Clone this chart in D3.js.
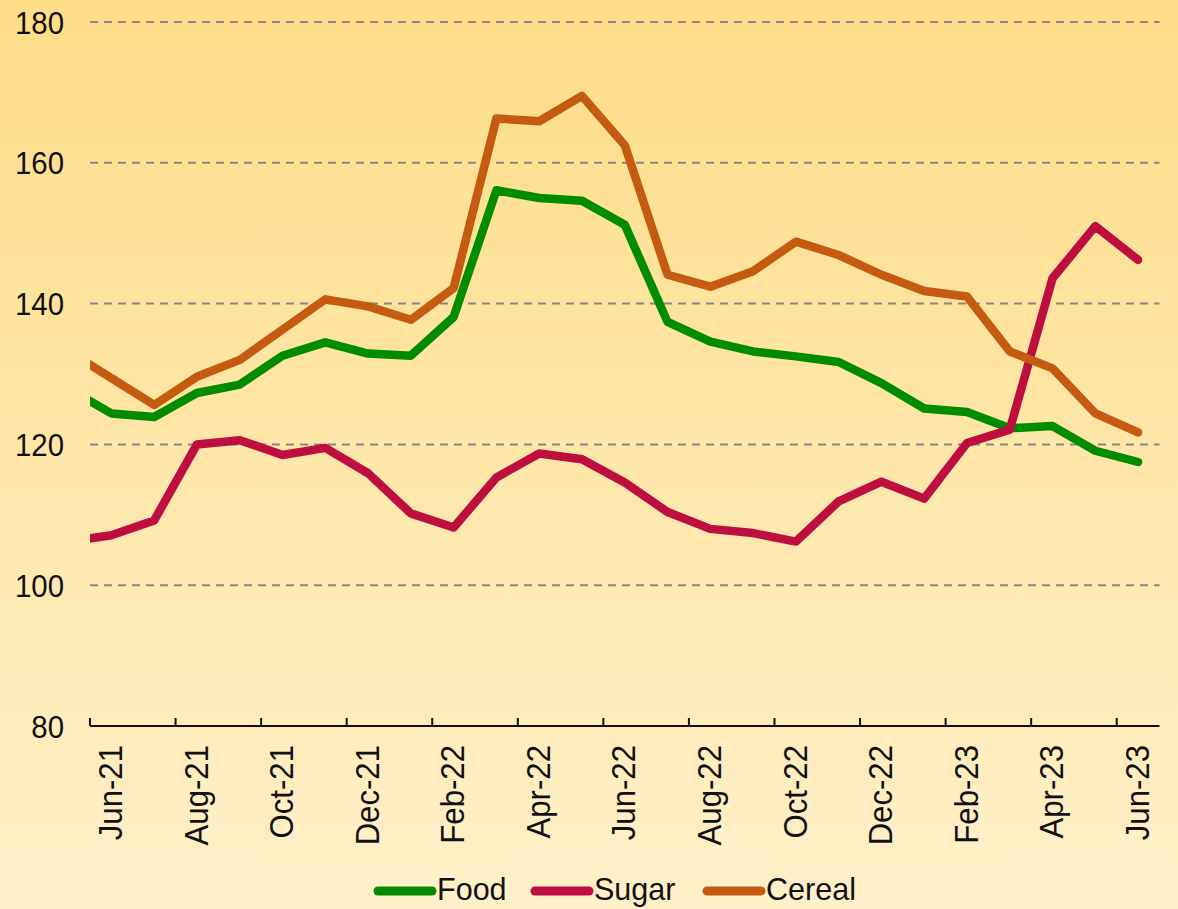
<!DOCTYPE html>
<html><head><meta charset="utf-8">
<script src="https://cdn.jsdelivr.net/npm/d3@7"></script>
<style>html,body{margin:0;padding:0;background:#fff;} body{width:1178px;height:909px;overflow:hidden;}</style>
</head><body>
<svg id="chart" width="1178" height="909"></svg>
<script>
// Months (first one, May-21, lies left of the axis and is clipped by the plot area)
const months = ["May-21","Jun-21","Jul-21","Aug-21","Sep-21","Oct-21","Nov-21","Dec-21",
  "Jan-22","Feb-22","Mar-22","Apr-22","May-22","Jun-22","Jul-22","Aug-22","Sep-22","Oct-22","Nov-22","Dec-22",
  "Jan-23","Feb-23","Mar-23","Apr-23","May-23","Jun-23"];
const axisMonths = months.slice(1);
const tickLabels = ["Jun-21","Aug-21","Oct-21","Dec-21","Feb-22","Apr-22","Jun-22","Aug-22","Oct-22","Dec-22","Feb-23","Apr-23","Jun-23"];
const food   = [127.9,124.4,123.9,127.3,128.5,132.6,134.5,132.9,132.6,138.1,156.1,155.0,154.6,151.2,137.4,134.6,133.2,132.5,131.7,128.7,125.1,124.6,122.3,122.6,119.1,117.5];
const sugar  = [106.2,107.1,109.2,120.0,120.6,118.5,119.5,115.9,110.2,108.2,115.3,118.7,117.9,114.6,110.4,108.0,107.4,106.2,111.9,114.7,112.3,120.2,122.1,143.6,151.0,146.2];
const cereal = [133.2,129.4,125.6,129.6,132.0,136.3,140.6,139.6,137.7,142.2,166.3,165.9,169.5,162.5,144.1,142.4,144.6,148.8,146.9,144.1,141.8,141.0,133.2,130.8,124.4,121.7];
const seriesNames = ["Food","Sugar","Cereal"];
const seriesColors = ["#008C00","#BE0E40","#C55A11"];
const yTicks = [80,100,120,140,160,180];

(function(){
const W = 1178, H = 909;
const pLeft = 90, pRight = 1159.5, pTop = 22, pBottom = 726;
const bw0 = (pRight - pLeft) / axisMonths.length;

const svg = d3.select("#chart");
const defs = svg.append("defs");
const grad = defs.append("linearGradient").attr("id","bg").attr("x1",0).attr("y1",0).attr("x2",0).attr("y2",1);
grad.append("stop").attr("offset","0%").attr("stop-color","#FEDD88");
grad.append("stop").attr("offset","100%").attr("stop-color","#FFF0C9");
defs.append("clipPath").attr("id","clip").append("rect")
  .attr("x",pLeft).attr("y",0).attr("width",W-pLeft).attr("height",H);

svg.append("rect").attr("width",W).attr("height",H).attr("fill","url(#bg)");

const x = d3.scaleBand().domain(months).range([pLeft - bw0, pRight]).paddingInner(0).paddingOuter(0);
const bw = x.bandwidth();
const y = d3.scaleLinear().domain([80,180]).range([pBottom, pTop]);

const font = "'Liberation Sans', Arial, Helvetica, sans-serif";

// gridlines
svg.append("g").selectAll("line").data(yTicks.filter(d => d > 80)).join("line")
  .attr("x1", pLeft).attr("x2", pRight)
  .attr("y1", d => y(d)).attr("y2", d => y(d))
  .attr("stroke","#878787").attr("stroke-width",2).attr("stroke-dasharray","8,6");

// y labels (slightly condensed)
svg.append("g").selectAll("text").data(yTicks).join("text")
  .attr("transform", d => `translate(64,${y(d)}) scale(0.92,1)`)
  .attr("dy","0.36em")
  .attr("text-anchor","end").attr("font-family",font).attr("font-size",32).attr("fill","#111")
  .text(d => d);

// x axis line
svg.append("line").attr("x1", x(axisMonths[0])).attr("x2", pRight)
  .attr("y1", pBottom).attr("y2", pBottom).attr("stroke","#111").attr("stroke-width",2);
// ticks (upward, at band starts)
svg.append("g").selectAll("line").data(tickLabels).join("line")
  .attr("x1", d => x(d)).attr("x2", d => x(d))
  .attr("y1", pBottom).attr("y2", pBottom - 8)
  .attr("stroke","#111").attr("stroke-width",2);
// x labels rotated
svg.append("g").selectAll("text").data(tickLabels).join("text")
  .attr("transform", d => `translate(${x(d) + bw/2 - 1},${pBottom + 19}) rotate(-90) scale(0.93,1)`)
  .attr("dy","0.35em").attr("text-anchor","end")
  .attr("font-family",font).attr("font-size",33.5).attr("fill","#111")
  .text(d => d);

// lines
const line = d3.line().x((d,i) => x(months[i]) + bw/2).y(d => y(d));
const data = [food, sugar, cereal];
const g = svg.append("g").attr("clip-path","url(#clip)");
data.forEach((s, k) => {
  g.append("path").datum(s).attr("d", line)
    .attr("fill","none").attr("stroke", seriesColors[k]).attr("stroke-width",8.5)
    .attr("stroke-linejoin","round").attr("stroke-linecap","round");
});

// legend
const legendX = [378, 535, 707];
const leg = svg.append("g");
seriesNames.forEach((n, k) => {
  leg.append("line").attr("x1", legendX[k]).attr("x2", legendX[k] + 54)
    .attr("y1", 891).attr("y2", 891).attr("stroke", seriesColors[k])
    .attr("stroke-width", 9).attr("stroke-linecap","round");
  leg.append("text").attr("transform", `translate(${legendX[k] + 59},889) scale(0.97,1)`)
    .attr("dy","0.36em")
    .attr("font-family",font).attr("font-size",31.5).attr("fill","#111").text(n);
});
})();
</script>
</body></html>
